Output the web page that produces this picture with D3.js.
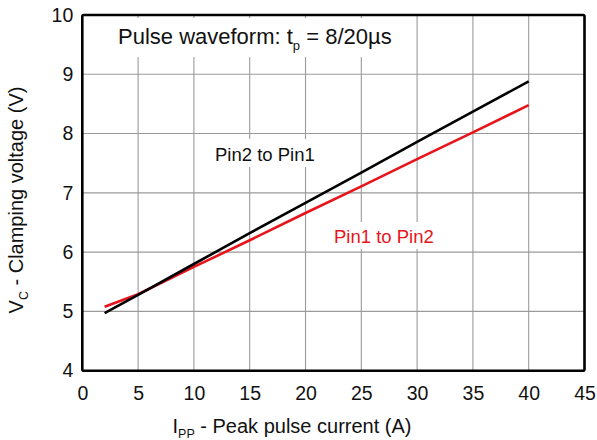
<!DOCTYPE html>
<html><head><meta charset="utf-8">
<script src="https://cdn.jsdelivr.net/npm/d3@7"></script>
<style>
html,body{margin:0;padding:0;background:#fff;}
svg{display:block;font-family:"Liberation Sans",Arial,sans-serif;}
</style></head>
<body><svg id="c" width="597" height="440"></svg>
<script>
const currents = [2, 5, 10, 15, 20, 25, 30, 35, 40];
const pin2ToPin1 = [4.97, 5.28, 5.80, 6.32, 6.83, 7.34, 7.86, 8.37, 8.88];
const pin1ToPin2 = [5.08, 5.29, 5.75, 6.20, 6.66, 7.11, 7.57, 8.02, 8.48];
const xTicks = [0, 5, 10, 15, 20, 25, 30, 35, 40, 45];
const yTicks = [4, 5, 6, 7, 8, 9, 10];

const svg = d3.select("#c");
const L = 82.3, R = 584.5, T = 15, B = 370.7;
const x = d3.scaleLinear().domain([0, 45]).range([L, R]);
const y = d3.scaleLinear().domain([4, 10]).range([B, T]);

// gridlines
const g = svg.append("g");
g.selectAll(".vx").data(xTicks.slice(1, -1)).join("line")
  .attr("x1", d => x(d)).attr("x2", d => x(d)).attr("y1", T).attr("y2", B)
  .attr("stroke", "#9a9a9a").attr("stroke-width", 1.1);
g.selectAll(".hy").data(yTicks.slice(1, -1)).join("line")
  .attr("x1", L).attr("x2", R).attr("y1", d => y(d)).attr("y2", d => y(d))
  .attr("stroke", "#9a9a9a").attr("stroke-width", 1.1);

// white boxes behind annotations
svg.append("rect").attr("x", L + 2).attr("y", 18).attr("width", 322).attr("height", 39).attr("fill", "#fff");
svg.append("rect").attr("x", 208).attr("y", 139).attr("width", 118).attr("height", 28).attr("fill", "#fff");
svg.append("rect").attr("x", 328).attr("y", 222).attr("width", 115).attr("height", 27).attr("fill", "#fff");

// lines
const line = d3.line().x((d, i) => x(currents[i])).y(d => y(d));
svg.append("path").datum(pin1ToPin2).attr("d", line)
  .attr("fill", "none").attr("stroke", "#e8141b").attr("stroke-width", 2.6);
svg.append("path").datum(pin2ToPin1).attr("d", line)
  .attr("fill", "none").attr("stroke", "#000").attr("stroke-width", 2.6);

// frame
svg.append("rect").attr("x", L).attr("y", T).attr("width", R - L).attr("height", B - T)
  .attr("fill", "none").attr("stroke", "#000").attr("stroke-width", 2.6).attr("rx", 1.5);

// axes (labels only)
const xa = svg.append("g").attr("transform", `translate(0,${B})`)
  .call(d3.axisBottom(x).tickValues(xTicks).tickSize(0).tickPadding(12).tickFormat(d3.format("d")));
xa.select(".domain").remove();
xa.selectAll("text").attr("font-size", 19.5).attr("fill", "#111").attr("font-family", "Liberation Sans, Arial, sans-serif").attr("dy", "0.9em");

const ya = svg.append("g").attr("transform", `translate(${L},0)`)
  .call(d3.axisLeft(y).tickValues(yTicks).tickSize(0).tickPadding(9).tickFormat(d3.format("d")));
ya.select(".domain").remove();
ya.selectAll("text").attr("font-size", 19.5).attr("fill", "#111").attr("font-family", "Liberation Sans, Arial, sans-serif");

// axis titles
const xt = svg.append("text").attr("x", 292).attr("y", 433).attr("text-anchor", "middle")
  .attr("font-size", 20).attr("fill", "#111");
xt.append("tspan").text("I");
xt.append("tspan").text("PP").attr("font-size", 12.5).attr("dy", 5);
xt.append("tspan").text(" - Peak pulse current (A)").attr("dy", -5);

const yt = svg.append("text").attr("transform", "translate(23,200) rotate(-90)").attr("text-anchor", "middle")
  .attr("font-size", 20).attr("fill", "#111");
yt.append("tspan").text("V");
yt.append("tspan").text("C").attr("font-size", 12.5).attr("dy", 5);
yt.append("tspan").text(" - Clamping voltage (V)").attr("dy", -5);

// title annotation
const tt = svg.append("text").attr("x", 118).attr("y", 44).attr("font-size", 22).attr("fill", "#111");
tt.append("tspan").text("Pulse waveform: t");
tt.append("tspan").text("p").attr("font-size", 13).attr("dy", 6);
tt.append("tspan").text(" = 8/20\u00B5s").attr("dy", -6);

svg.append("text").attr("x", 215).attr("y", 161).attr("font-size", 18.5).attr("fill", "#111").text("Pin2 to Pin1");
svg.append("text").attr("x", 334).attr("y", 243).attr("font-size", 18.5).attr("fill", "#e8141b").text("Pin1 to Pin2");
</script></body></html>
